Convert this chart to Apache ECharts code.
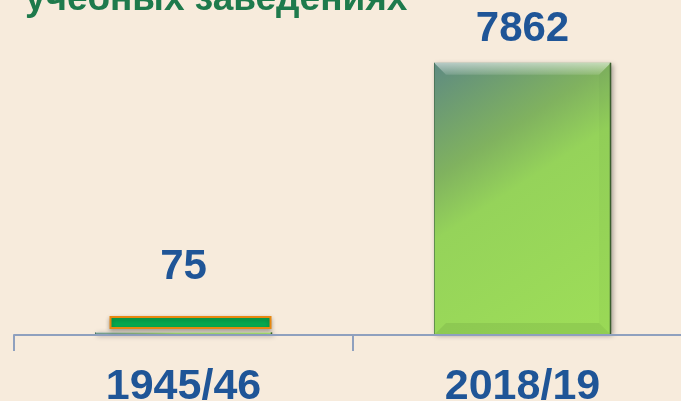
<!DOCTYPE html>
<html>
<head>
<meta charset="utf-8">
<script src="https://cdn.jsdelivr.net/npm/echarts@6/dist/echarts.min.js"></script>
<style>
  html, body { margin: 0; padding: 0; background: #F7EBDC; }
  #chart { width: 681px; height: 401px; }
</style>
</head>
<body>
<div id="chart"></div>
<script>
// Academic years and the count for each
const categories = ['1945/46', '2018/19'];
const values = [75, 7862];
const titleText = 'учебных заведениях';

const FONT = '"Liberation Sans", Arial, sans-serif';
const BAR_W = 177;

const barFill = new echarts.graphic.LinearGradient(0, 0, 1, 1, [
  { offset: 0, color: '#5E8A82' },
  { offset: 0.3, color: '#80B25F' },
  { offset: 0.46, color: '#95D35A' },
  { offset: 1, color: '#9EDE58' }
]);

const chart = echarts.init(document.getElementById('chart'), null, { renderer: 'canvas' });

// Bevel overlay for each bar: light top edge, darker bottom edge, dark right rim
function renderBevel(params, api) {
  const idx = api.value(0);
  const top = api.coord([idx, api.value(1)]);
  const base = api.coord([idx, 0]);
  const x = top[0] - BAR_W / 2;
  const y0 = top[1];
  const y1 = base[1];
  const h = y1 - y0;
  const b = Math.min(12, h / 2);
  return {
    type: 'group',
    children: [
      {
        type: 'polygon',
        shape: { points: [[x, y0], [x + BAR_W, y0], [x + BAR_W - b, y0 + b], [x + b, y0 + b]] },
        style: {
          fill: new echarts.graphic.LinearGradient(0, 0, 0, 1, [
            { offset: 0, color: 'rgba(255,255,255,0.55)' },
            { offset: 1, color: 'rgba(255,255,255,0.12)' }
          ])
        }
      },
      {
        type: 'polygon',
        shape: { points: [[x, y1], [x + b, y1 - b], [x + BAR_W - b, y1 - b], [x + BAR_W, y1]] },
        style: { fill: 'rgba(70,110,40,0.14)' }
      },
      {
        type: 'polygon',
        shape: { points: [[x + BAR_W, y0], [x + BAR_W - b, y0 + b], [x + BAR_W - b, y1 - b], [x + BAR_W, y1]] },
        style: { fill: 'rgba(40,70,30,0.03)' }
      },
      {
        type: 'line',
        shape: { x1: x + BAR_W - 0.5, y1: y0, x2: x + BAR_W - 0.5, y2: y1 },
        style: { stroke: '#3A5E2C', lineWidth: 1.5 }
      },
      {
        type: 'line',
        shape: { x1: x + 0.5, y1: y0, x2: x + 0.5, y2: y1 },
        style: { stroke: 'rgba(60,100,70,0.6)', lineWidth: 1 }
      }
    ]
  };
}

const labelDistance = [44, 12];

const titleGraphic = {
  type: 'text',
  x: 25,
  y: 0,
  style: {
    text: titleText,
    font: 'bold 37px ' + FONT,
    fill: '#1E7A4C',
    verticalAlign: 'middle',
    align: 'left'
  }
};

chart.setOption({
  backgroundColor: '#F7EBDC',
  animation: false,
  grid: { left: 14, width: 678, top: 58, bottom: 66, containLabel: false, outerBoundsMode: 'none' },
  xAxis: {
    type: 'category',
    data: categories,
    axisLine: { lineStyle: { color: '#8FA0BE', width: 2 } },
    axisTick: { show: true, length: 16, lineStyle: { color: '#8FA0BE', width: 2 } },
    axisLabel: {
      fontSize: 43,
      fontWeight: 'bold',
      fontFamily: FONT,
      color: '#1F5597',
      margin: 31
    },
    z: 5
  },
  yAxis: {
    type: 'value',
    min: 0,
    max: 8000,
    show: false,
    splitLine: { show: false }
  },
  series: [
    {
      type: 'bar',
      barWidth: BAR_W,
      data: values.map((v, i) => ({
        value: v,
        label: { distance: labelDistance[i] }
      })),
      itemStyle: {
        color: barFill,
        shadowColor: 'rgba(0,0,0,0.35)',
        shadowBlur: 5,
        shadowOffsetX: 2,
        shadowOffsetY: 1
      },
      label: {
        show: true,
        position: 'top',
        fontSize: 42,
        fontWeight: 'bold',
        fontFamily: FONT,
        color: '#1F5597'
      },
      z: 2
    },
    {
      type: 'custom',
      silent: true,
      renderItem: renderBevel,
      data: values.map((v, i) => [i, v]),
      z: 3
    }
  ],
  graphic: [titleGraphic]
});

// Green plate with orange rim resting just above the first year's bar
const anchor = chart.convertToPixel({ xAxisIndex: 0, yAxisIndex: 0 }, [0, 0]);
chart.setOption({
  graphic: [
    titleGraphic,
    {
      type: 'rect',
      shape: { x: anchor[0] - 73, y: anchor[1] - 18, width: 160, height: 11 },
      style: {
        fill: '#08A94F',
        stroke: '#E8870F',
        lineWidth: 2,
        shadowColor: 'rgba(0,0,0,0.3)',
        shadowBlur: 4,
        shadowOffsetY: 2
      },
      z: 10
    }
  ]
});
</script>
</body>
</html>
